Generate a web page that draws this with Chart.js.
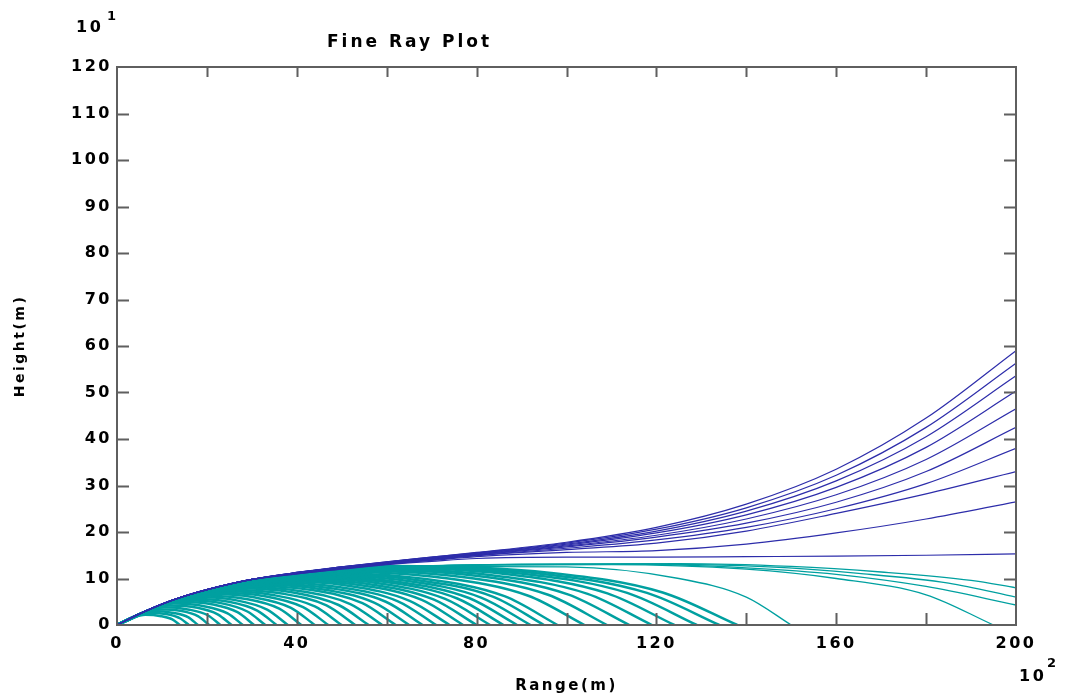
<!DOCTYPE html>
<html>
<head>
<meta charset="utf-8">
<title>Fine Ray Plot</title>
<script src="https://cdn.jsdelivr.net/npm/chart.js@4/dist/chart.umd.min.js"></script>
<style>
  html, body { margin: 0; padding: 0; background: #fff; }
  #wrap { width: 1066px; height: 698px; }
</style>
</head>
<body>
<div id="wrap"><canvas id="rays" width="1066" height="698"></canvas></div>
<script>
// ============================
// DATA (x in 10^2 m, y in 10^1 m)
// ============================
const xLabels = [0, 40, 80, 120, 160, 200];
const xTickMarks = [20, 40, 60, 80, 100, 120, 140, 160, 180];
const yTickMarks = [10, 20, 30, 40, 50, 60, 70, 80, 90, 100, 110];

// escaping rays (blue), sampled at blueX
const blueX = [0, 5, 10, 15, 20, 30, 40, 50, 60, 70, 80, 100, 120, 140, 160, 180, 200];
const blueRays = [
  [0, 2.4, 4.5, 6.2, 7.6, 9.8, 11.3, 12.5, 13.6, 14.6, 15.6, 17.8, 21.0, 26.0, 33.5, 44.5, 59.0],
  [0, 2.4, 4.5, 6.2, 7.6, 9.8, 11.3, 12.5, 13.6, 14.6, 15.5, 17.6, 20.6, 25.2, 32.2, 42.5, 56.3],
  [0, 2.4, 4.5, 6.2, 7.6, 9.8, 11.3, 12.5, 13.5, 14.5, 15.4, 17.4, 20.2, 24.5, 31.0, 40.5, 53.6],
  [0, 2.4, 4.5, 6.2, 7.6, 9.8, 11.2, 12.4, 13.5, 14.4, 15.3, 17.2, 19.8, 23.7, 29.6, 38.2, 50.3],
  [0, 2.4, 4.5, 6.2, 7.6, 9.8, 11.2, 12.4, 13.4, 14.3, 15.2, 17.0, 19.3, 22.8, 28.0, 35.6, 46.5],
  [0, 2.4, 4.5, 6.2, 7.6, 9.8, 11.2, 12.3, 13.3, 14.2, 15.1, 16.8, 18.9, 21.9, 26.4, 33.0, 42.5],
  [0, 2.4, 4.5, 6.2, 7.6, 9.8, 11.1, 12.3, 13.3, 14.1, 15.0, 16.5, 18.3, 21.0, 25.0, 30.4, 38.0],
  [0, 2.4, 4.5, 6.2, 7.6, 9.8, 11.1, 12.2, 13.2, 14.0, 14.9, 16.2, 17.6, 20.2, 24.0, 28.2, 33.0],
  [0, 2.4, 4.5, 6.2, 7.6, 9.8, 11.0, 12.1, 13.1, 13.9, 14.7, 15.6, 16.0, 17.4, 19.8, 22.8, 26.5],
  [0, 2.4, 4.5, 6.2, 7.6, 9.8, 11.0, 12.0, 13.0, 13.7, 14.3, 14.6, 14.6, 14.7, 14.8, 15.0, 15.3]
];

// trapped rays (cyan) that come back to the ground before x = 140, [range, height] pairs
const cyanShort = [
  [[0,0],[1.4,0.7],[3.5,1.6],[6.3,2.2],[9.8,1.9],[12.3,1.2],[14,0]],
  [[0,0],[1.6,0.75],[4,1.85],[7.2,2.6],[11.2,2.3],[14.1,1.4],[16,0]],
  [[0,0],[1.8,0.85],[4.5,2.1],[8.1,3.0],[12.6,2.6],[15.8,1.7],[18,0]],
  [[0,0],[2.05,0.95],[5.1,2.3],[9.2,3.4],[14.4,3.0],[18,1.9],[20.5,0]],
  [[0,0],[2.3,1.05],[5.8,2.65],[10.4,3.8],[16.1,3.3],[20.2,2.1],[23,0]],
  [[0,0],[2.55,1.2],[6.4,2.9],[11.5,4.2],[17.9,3.7],[22.4,2.3],[25.5,0]],
  [[0,0],[2.8,1.3],[7,3.1],[12.6,4.6],[19.6,4.0],[24.6,2.5],[28,0]],
  [[0,0],[3.05,1.45],[7.6,3.35],[13.7,5.0],[21.4,4.4],[26.8,2.75],[30.5,0]],
  [[0,0],[3.3,1.55],[8.3,3.6],[14.9,5.3],[23.1,4.7],[29,2.9],[33,0]],
  [[0,0],[3.55,1.65],[8.9,3.85],[16,5.65],[24.9,5.0],[31.2,3.1],[35.5,0]],
  [[0,0],[3.8,1.8],[9.5,4.1],[17.1,6.0],[26.6,5.3],[33.4,3.3],[38,0]],
  [[0,0],[4.1,1.9],[10.3,4.35],[18.5,6.35],[28.7,5.6],[36.1,3.5],[41,0]],
  [[0,0],[4.4,2.05],[11,4.6],[19.8,6.7],[30.8,5.9],[38.7,3.7],[44,0]],
  [[0,0],[4.7,2.15],[11.8,4.9],[21.2,7.0],[32.9,6.2],[41.4,3.85],[47,0]],
  [[0,0],[5,2.3],[12.5,5.1],[22.5,7.3],[35,6.4],[44,4.0],[50,0]],
  [[0,0],[5.3,2.4],[13.3,5.45],[23.9,7.6],[37.1,6.7],[46.6,4.2],[53,0]],
  [[0,0],[5.6,2.55],[14,5.6],[25.2,7.9],[39.2,7.0],[49.3,4.3],[56,0]],
  [[0,0],[5.9,2.65],[14.8,5.85],[26.6,8.2],[41.3,7.2],[51.9,4.5],[59,0]],
  [[0,0],[6.2,2.8],[15.5,6.0],[27.9,8.5],[43.4,7.5],[54.6,4.7],[62,0]],
  [[0,0],[6.5,2.9],[16.3,6.2],[29.3,8.75],[45.5,7.7],[57.2,4.8],[65,0]],
  [[0,0],[6.8,3.05],[17,6.6],[30.6,9.0],[47.6,7.9],[59.8,5.0],[68,0]],
  [[0,0],[7.1,3.2],[17.8,6.65],[32,9.25],[49.7,8.1],[62.5,5.1],[71,0]],
  [[0,0],[7.4,3.3],[18.5,7.0],[33.3,9.5],[51.8,8.4],[65.1,5.2],[74,0]],
  [[0,0],[7.7,3.4],[19.3,7.0],[34.7,9.75],[53.9,8.6],[67.8,5.4],[77,0]],
  [[0,0],[8,3.5],[20,7.2],[36,10.0],[56,8.8],[70.4,5.5],[80,0]],
  [[0,0],[8.3,3.65],[20.8,7.4],[37.4,10.2],[58.1,9.0],[73,5.6],[83,0]],
  [[0,0],[8.6,3.75],[21.5,7.6],[38.7,10.4],[60.2,9.2],[75.7,5.7],[86,0]],
  [[0,0],[8.9,3.9],[22.3,7.75],[40.1,10.6],[62.3,9.3],[78.3,5.8],[89,0]],
  [[0,0],[9.2,4.0],[23,8.0],[41.4,10.8],[64.4,9.5],[81,5.9],[92,0]],
  [[0,0],[9.5,4.1],[23.8,8.1],[42.8,11.0],[66.5,9.7],[83.6,6.1],[95,0]],
  [[0,0],[9.8,4.2],[24.5,8.3],[44.1,11.2],[68.6,9.9],[86.2,6.2],[98,0]],
  [[0,0],[10.4,4.4],[26,8.5],[46.8,11.5],[72.8,10.1],[91.5,6.3],[104,0]],
  [[0,0],[10.9,4.6],[27.3,8.8],[49,11.8],[76.3,10.4],[95.9,6.5],[109,0]],
  [[0,0],[11.4,4.8],[28.5,9.1],[51.3,12.0],[79.8,10.6],[100.3,6.6],[114,0]],
  [[0,0],[11.9,5.0],[29.8,9.3],[53.6,12.2],[83.3,10.7],[104.7,6.7],[119,0]],
  [[0,0],[12.4,5.1],[31,9.4],[55.8,12.4],[86.8,10.9],[109.1,6.8],[124,0]],
  [[0,0],[12.9,5.3],[32.3,9.6],[58,12.5],[90.3,11.0],[113.5,6.9],[129,0]],
  [[0,0],[13.4,5.5],[33.5,9.8],[60.3,12.6],[93.8,11.1],[117.9,6.9],[134,0]],
  [[0,0],[13.8,5.6],[34.5,9.9],[62.1,12.7],[96.6,11.2],[121.4,7.0],[138,0]]
];

// trapped rays (cyan) that travel far, [range, height] pairs
const cyanLong = [
  [[0,0],[15,6.0],[37,10.3],[67,12.6],[100,12.5],[125,10.0],[140,6.0],[150,0]],
  [[0,0],[15,6.0],[38,10.4],[75,12.8],[110,13.0],[140,12.0],[160,10.0],[180,6.5],[195,0]],
  [[0,0],[15,6.0],[38,10.5],[80,12.9],[115,13.1],[140,12.3],[160,10.9],[180,8.3],[200,4.3]],
  [[0,0],[15,6.0],[39,10.6],[85,13.0],[120,13.1],[145,12.5],[165,11.1],[185,9.0],[200,6.0]],
  [[0,0],[15,6.0],[40,10.7],[90,13.1],[125,13.2],[150,12.6],[170,11.4],[190,9.6],[200,8.0]]
];

// ============================
// STYLE
// ============================
const BLUE = "rgb(45,45,170)";
const CYAN = "rgb(0,160,160)";
const AXIS = "rgb(95,95,95)";
const INK = "#000";
const SANS = "'DejaVu Sans', 'Liberation Sans', sans-serif";

// ============================
// FRAME, INWARD TICKS, EXTRA LABELS
// ============================
const frameTicks = {
  id: "frameTicks",
  beforeDraw(chart) {
    chart.ctx.letterSpacing = "2.5px";
  },
  afterDatasetsDraw(chart) {
    const { ctx, chartArea: a, scales: { x, y } } = chart;
    ctx.save();
    ctx.strokeStyle = AXIS;
    ctx.lineWidth = 2;
    ctx.strokeRect(a.left, a.top, a.right - a.left, a.bottom - a.top);
    ctx.beginPath();
    xTickMarks.forEach(v => {
      const px = Math.round(x.getPixelForValue(v)) + 0.5;
      ctx.moveTo(px, a.bottom); ctx.lineTo(px, a.bottom - 12);
      ctx.moveTo(px, a.top); ctx.lineTo(px, a.top + 10);
    });
    yTickMarks.forEach(v => {
      const py = Math.round(y.getPixelForValue(v)) + 0.5;
      ctx.moveTo(a.left, py); ctx.lineTo(a.left + 12, py);
      ctx.moveTo(a.right, py); ctx.lineTo(a.right - 12, py);
    });
    ctx.stroke();

    ctx.fillStyle = INK;
    ctx.textBaseline = "middle";
    ctx.textAlign = "left";
    ctx.letterSpacing = "3px";
    ctx.font = "bold 17px " + SANS;
    ctx.fillText("Fine Ray Plot", 327, 43);
    ctx.letterSpacing = "2.5px";
    ctx.font = "bold 16px " + SANS;
    ctx.fillText("10", 76, 28);
    ctx.fillText("10", 1019, 677);
    ctx.font = "bold 13px " + SANS;
    ctx.fillText("1", 107, 17);
    ctx.fillText("2", 1047, 664);
    ctx.restore();
  }
};

// ============================
// CHART
// ============================
const datasets = [];
blueRays.forEach(ys => {
  datasets.push({
    data: blueX.map((xv, i) => ({ x: xv, y: ys[i] })),
    borderColor: BLUE,
    borderWidth: 1.2
  });
});
cyanShort.forEach(pts => {
  datasets.push({
    data: pts.map(p => ({ x: p[0], y: p[1] })),
    borderColor: CYAN,
    borderWidth: 2.5
  });
});
cyanLong.forEach(pts => {
  datasets.push({
    data: pts.map(p => ({ x: p[0], y: p[1] })),
    borderColor: CYAN,
    borderWidth: 1.3
  });
});

const tickFont = { family: SANS, weight: "bold", size: 16 };

new Chart(document.getElementById("rays"), {
  type: "scatter",
  data: { datasets },
  options: {
    responsive: false,
    animation: false,
    devicePixelRatio: 1,
    showLine: true,
    elements: {
      point: { radius: 0, hoverRadius: 0 },
      line: { cubicInterpolationMode: "monotone", fill: false }
    },
    layout: { padding: { left: 0, right: 50, top: 67, bottom: 0 } },
    plugins: { legend: { display: false }, tooltip: { enabled: false }, title: { display: false } },
    scales: {
      x: {
        type: "linear",
        min: 0,
        max: 200,
        afterBuildTicks: s => { s.ticks = xLabels.map(v => ({ value: v })); },
        afterFit: s => { s.height = 73; },
        grid: { display: false, drawTicks: false },
        border: { display: false },
        ticks: { font: tickFont, color: INK, padding: 9, autoSkip: false, maxRotation: 0 },
        title: { display: true, text: "Range(m)", font: { family: SANS, weight: "bold", size: 15 }, color: INK, padding: { top: 0, bottom: 3 } }
      },
      y: {
        type: "linear",
        min: 0,
        max: 120,
        afterBuildTicks: s => { s.ticks = [0, ...yTickMarks, 120].map(v => ({ value: v })); },
        afterFit: s => { s.width = 117; },
        grid: { display: false, drawTicks: false },
        border: { display: false },
        ticks: { font: tickFont, color: INK, padding: 5 },
        title: { display: true, text: "Height(m)", font: { family: SANS, weight: "bold", size: 14 }, color: INK, padding: { top: 12, bottom: 0 } }
      }
    }
  },
  plugins: [frameTicks]
});
</script>
</body>
</html>
